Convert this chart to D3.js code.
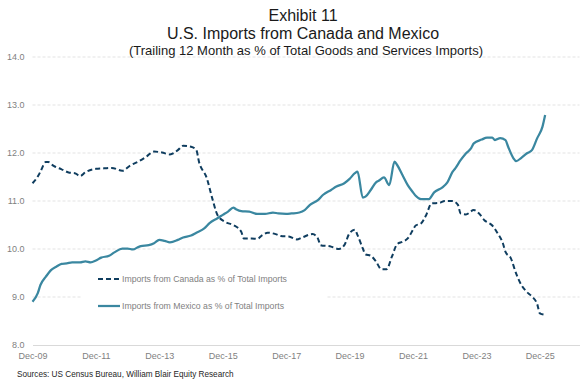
<!DOCTYPE html>
<html>
<head>
<meta charset="utf-8">
<script src="https://cdn.jsdelivr.net/npm/d3@7/dist/d3.min.js"></script>
<style>
  html, body { margin: 0; padding: 0; background: #fff; }
  svg { display: block; font-family: "Liberation Sans", Arial, sans-serif; }
</style>
</head>
<body>
<svg id="chart" width="585" height="381"></svg>
<script>
// Months elapsed since Dec-2009, and trailing-12-month import share (%)
const canadaMonths = [0,2,3,5,6,8,11,14,16,18,20,24,27,30,34,37,40,43,46,49,52,55,57,60,62,63,66,68,70,73,76,79,80,83,85,87,89,92,94,97,100,102,106,108,109,113,114,116,118,120,122,123,125,126,128,130,132,134,136,138,140,142,144,145,147,149,151,154,156,159,161,162,164,167,169,171,174,176,178,179,181,183,185,187,189,191,192,194];
const canadaShare  = [11.37,11.51,11.61,11.81,11.81,11.73,11.66,11.59,11.58,11.52,11.60,11.67,11.68,11.69,11.63,11.74,11.82,11.92,12.03,12.01,11.97,12.06,12.15,12.13,12.06,11.82,11.47,11.06,10.71,10.56,10.50,10.36,10.22,10.22,10.21,10.29,10.34,10.31,10.27,10.26,10.20,10.24,10.31,10.22,10.08,10.05,10.03,10.00,10.08,10.33,10.40,10.29,10.01,9.89,9.86,9.74,9.58,9.58,9.84,10.10,10.15,10.22,10.40,10.49,10.53,10.71,10.95,10.96,11.00,11.00,10.92,10.74,10.72,10.81,10.74,10.60,10.49,10.33,10.12,9.94,9.81,9.49,9.25,9.11,9.01,8.85,8.66,8.63];

const mexicoMonths = [0,2,3,5,7,9,11,13,15,18,20,22,24,26,29,31,34,36,38,40,41,44,46,48,50,52,55,57,60,62,65,67,70,72,74,76,77,79,82,85,88,91,93,96,98,101,103,105,108,110,113,115,118,120,122,123,125,126,128,130,131,133,135,137,138,140,142,144,145,147,150,152,155,157,159,160,162,164,166,167,170,172,174,175,177,179,180,182,183,185,187,189,191,193,194];
const mexicoShare  = [8.90,9.08,9.25,9.42,9.56,9.63,9.69,9.70,9.72,9.72,9.74,9.72,9.76,9.82,9.86,9.93,10.01,10.01,9.99,10.04,10.06,10.08,10.12,10.19,10.17,10.14,10.19,10.24,10.28,10.34,10.43,10.54,10.64,10.71,10.78,10.86,10.83,10.79,10.78,10.73,10.73,10.76,10.74,10.73,10.74,10.76,10.81,10.92,11.02,11.13,11.23,11.30,11.37,11.46,11.58,11.61,11.07,11.09,11.23,11.39,11.42,11.49,11.33,11.82,11.75,11.54,11.33,11.18,11.11,11.04,11.04,11.18,11.28,11.39,11.61,11.68,11.85,11.99,12.10,12.20,12.28,12.32,12.32,12.27,12.31,12.27,12.13,11.89,11.83,11.90,11.99,12.06,12.31,12.55,12.79];

const xTickMonths = [0,24,48,72,96,120,144,168,192];
const xTickLabels = ["Dec-09","Dec-11","Dec-13","Dec-15","Dec-17","Dec-19","Dec-21","Dec-23","Dec-25"];
const yTicks = [8,9,10,11,12,13,14];

const seriesNames = ["Imports from Canada as % of Total Imports",
                     "Imports from Mexico as % of Total Imports"];
const titleLines = ["Exhibit 11", "U.S. Imports from Canada and Mexico"];
const subtitle = "(Trailing 12 Month as % of Total Goods and Services Imports)";
const sourceNote = "Sources: US Census Bureau, William Blair Equity Research";

const canadaColor = "#0f3d5f";
const mexicoColor = "#3a87a0";

const svg = d3.select("#chart");

const x = d3.scaleLinear().domain([0, 207]).range([32.5, 579.5]);
const y = d3.scaleLinear().domain([8, 14]).range([345, 57]);

// Horizontal gridlines
svg.append("g")
  .selectAll("line")
  .data(yTicks.filter(v => v > 8))
  .join("line")
  .attr("x1", x.range()[0]).attr("x2", x.range()[1])
  .attr("y1", d => y(d)).attr("y2", d => y(d))
  .attr("stroke", "#e3e3e3")
  .attr("stroke-width", 1)
  .attr("stroke-dasharray", "3,2");

// Baseline axis
const xAxis = d3.axisBottom(x)
  .tickValues(xTickMonths)
  .tickFormat((d, i) => xTickLabels[i])
  .tickSize(0)
  .tickPadding(8);
const gx = svg.append("g").attr("transform", `translate(0,${y(8)})`).call(xAxis);
gx.select(".domain").attr("stroke", "#d9d9d9").attr("stroke-width", 1);
gx.selectAll("text")
  .attr("fill", "#7f7f7f")
  .style("font-size", "9px")
  .style("font-family", "Liberation Sans, Arial, sans-serif");

const yAxis = d3.axisLeft(y)
  .tickValues(yTicks)
  .tickFormat(d3.format(".1f"))
  .tickSize(0)
  .tickPadding(8);
const gy = svg.append("g").attr("transform", `translate(${x.range()[0]},0)`).call(yAxis);
gy.select(".domain").remove();
gy.selectAll("text")
  .attr("fill", "#7f7f7f")
  .style("font-size", "9px")
  .style("font-family", "Liberation Sans, Arial, sans-serif");

// Legend box sits over the gridlines
svg.append("rect")
  .attr("x", 82).attr("y", 266).attr("width", 244).attr("height", 52)
  .attr("fill", "#ffffff");

const line = d3.line()
  .x(d => x(d[0]))
  .y(d => y(d[1]))
  .curve(d3.curveMonotoneX);

svg.append("path")
  .datum(mexicoMonths.map((m, i) => [m, mexicoShare[i]]))
  .attr("d", line)
  .attr("fill", "none")
  .attr("stroke", mexicoColor)
  .attr("stroke-width", 2.25)
  .attr("stroke-linejoin", "round");

svg.append("path")
  .datum(canadaMonths.map((m, i) => [m, canadaShare[i]]))
  .attr("d", line)
  .attr("fill", "none")
  .attr("stroke", canadaColor)
  .attr("stroke-width", 2)
  .attr("stroke-dasharray", "5,3");

// Legend
const legend = svg.append("g");
const legendRows = [
  { name: seriesNames[0], color: canadaColor, dash: "5,3", w: 2, yPos: 279 },
  { name: seriesNames[1], color: mexicoColor, dash: null, w: 2.25, yPos: 306 }
];
legendRows.forEach(r => {
  legend.append("line")
    .attr("x1", 98).attr("x2", 120)
    .attr("y1", r.yPos).attr("y2", r.yPos)
    .attr("stroke", r.color)
    .attr("stroke-width", r.w)
    .attr("stroke-dasharray", r.dash);
  legend.append("text")
    .attr("x", 122).attr("y", r.yPos + 3)
    .attr("fill", "#7f7f7f")
    .style("font-size", "8.7px")
    .text(r.name);
});

// Titles
svg.append("text").attr("x", 303).attr("y", 21).attr("text-anchor", "middle")
  .attr("fill", "#1a1a1a").style("font-size", "16px").text(titleLines[0]);
svg.append("text").attr("x", 303).attr("y", 39).attr("text-anchor", "middle")
  .attr("fill", "#1a1a1a").style("font-size", "16px").text(titleLines[1]);
svg.append("text").attr("x", 306).attr("y", 55).attr("text-anchor", "middle")
  .attr("fill", "#1a1a1a").style("font-size", "13px").text(subtitle);

svg.append("text").attr("x", 17).attr("y", 377)
  .attr("fill", "#262626").style("font-size", "8.2px").text(sourceNote);
</script>
</body>
</html>
